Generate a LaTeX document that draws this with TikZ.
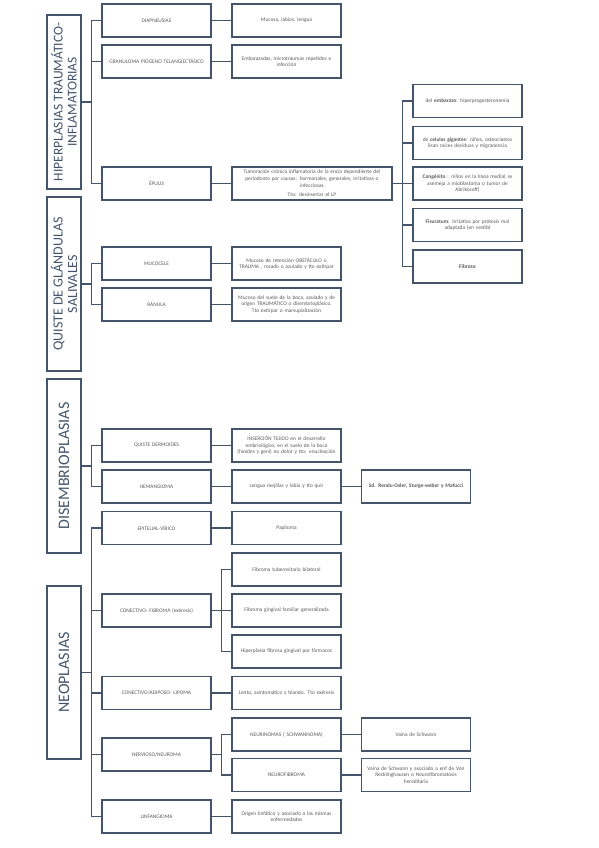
\documentclass[tikz,border=0pt]{standalone}
\usepackage{fontspec}
\setmainfont{Carlito}
\hyphenpenalty=10000
\exhyphenpenalty=10000
\definecolor{edge}{HTML}{44546A}
\definecolor{txt}{HTML}{595959}
\tikzset{
 box/.style={draw=edge, line width=1.3pt, fill=white, text=txt, inner xsep=1pt, inner ysep=1pt,
   minimum height=33pt, text width=107pt, align=center, font=\fontsize{5.4}{6.6}\selectfont},
 widebox/.style={box, text width=158pt},
 cat/.style={draw=edge, line width=1.3pt, rotate=90, minimum width=174pt, minimum height=34pt,
   inner sep=0pt, align=center, text=edge},
 conn/.style={draw=edge, line width=1.3pt},
}
\begin{document}
\begin{tikzpicture}[x=1pt,y=-1pt]
\useasboundingbox (0,0) rectangle (599,848);
% categories
\node[cat, font=\fontsize{13.5}{14}\selectfont] (hip) at (64,102) {HIPERPLASIAS TRAUMÁTICO-\\INFLAMATORIAS};
\node[cat, font=\fontsize{14}{14.5}\selectfont] (qui) at (64,284) {QUISTE DE GLÁNDULAS\\SALIVALES};
\node[cat, font=\fontsize{16}{17}\selectfont] (dis) at (64,466) {DISEMBRIOPLASIAS};
\node[cat, font=\fontsize{16}{17}\selectfont, minimum width=173pt] (neo) at (64,672.5) {NEOPLASIAS};
% level 1
\node[box] (diap) at (156.5,20.5) {DIAPNEUSIAS};
\node[box] (gran) at (156.5,61.5) {GRANULOMA PIÓGENO TELANGIECTÁSICO};
\node[box] (epu) at (156.5,183.5) {ÉPULIS};
\node[box] (muc) at (156.5,263.5) {MUCOCELE};
\node[box] (ran) at (156.5,304.5) {RÁNULA};
\node[box] (qder) at (156.5,445.5) {QUISTE DERMOIDES};
\node[box] (hem) at (156.5,486.5) {HEMANGIOMA};
\node[box] (epi) at (156.5,528) {EPITELIAL-VÍRICO};
\node[box] (cfib) at (156.5,610.5) {CONECTIVO- FIBROMA (exéresis)};
\node[box] (lip) at (156.5,693) {CONECTIVO/ADIPOSO- LIPOMA};
\node[box] (ner) at (156.5,754.5) {NERVIOSO/NEUROMA};
\node[box] (lin) at (156.5,816.5) {LINFANGIOMA};
% level 2
\node[box] (dmuc) at (286.5,20.5) {Mucosa, labios, lengua};
\node[box] (dgran) at (286.5,61.5) {Embarazadas, microtraumas repetidos e\\infección};
\node[widebox] (depu) at (312,183.5) {Tumoración crónica inflamatoria de la encía dependiente del\\periodonto por causas: hormonales, generales, irritativas o\\infecciosas\\[3pt]Tto: desinsertar el LP};
\node[box] (dmucc) at (286.5,263.5) {Mucoso de retención OBSTÁCULO o\\TRAUMA , rosado o azulado y tto extirpar};
\node[box] (dran) at (286.5,304.5) {Mucoso del suelo de la boca, azulado y de\\origen TRAUMÁTICO o disembrioplásico.\\Tto extirpar o marsupialización};
\node[box] (dqder) at (286.5,445.5) {INSERCIÓN TEJIDO en el desarrollo\\embriológico, en el suelo de la boca\\(hioides y geni) no dolor y tto: enucleación};
\node[box] (dhem) at (286.5,486.5) {Lengua mejillas y labio y tto quir};
\node[box] (depi) at (286.5,528) {Papiloma};
\node[box] (f1) at (286.5,569.5) {Fibroma tuberositario bilateral};
\node[box] (f2) at (286.5,610.5) {Fibroma gingival familiar generalizada};
\node[box] (f3) at (286.5,651.5) {Hiperplasia fibrosa gingival por fármacos};
\node[box] (dlip) at (286.5,693) {Lento, asintomático y blando. Tto exéresis};
\node[box] (n1) at (286.5,734.5) {NEURINOMAS ( SCHWANNOMA)};
\node[box] (n2) at (286.5,775) {NEUROFIBROMA};
\node[box] (dlin) at (286.5,816.5) {Origen linfático y asociado a las mismas\\enfermedades};
% level 3
\node[box] (sd) at (416,486.5) {\textbf{Sd. Rendu-Osler, Sturge-weber y Mafucci}};
\node[box] (v1) at (416,734.5) {Vaina de Schwann};
\node[box] (v2) at (416,775) {Vaina de Schwann y asociado a enf de Von\\Recklinghausen o Neurofibromatosis\\hereditaria};
% epulis subtypes
\node[box] (e1) at (467.5,101) {del \textbf{embarazo}: hiperprogesteronemia};
\node[box] (e2) at (467.5,143) {de \textbf{celulas gigantes}: niños, osteoclastos\\lisan raíces deciduas y migranencia};
\node[box] (e3) at (467.5,183.5) {\textbf{Congénito} : niños en la línea media( se\\asemeja a mioblastoma o tumor de\\Abrikosoff)};
\node[box] (e4) at (467.5,225) {\textbf{Fisuratum}: irritativa por prótesis mal\\adaptada (en vestib)};
\node[box] (e5) at (467.5,266.5) {\textbf{Fibroso}};
% connectors
\foreach \c in {diap,gran,epu} \draw[conn] (hip.south) -- ++(10,0) |- (\c.west);
\foreach \c in {muc,ran} \draw[conn] (qui.south) -- ++(10,0) |- (\c.west);
\foreach \c in {qder,hem} \draw[conn] (dis.south) -- ++(10,0) |- (\c.west);
\foreach \c in {epi,cfib,lip,ner,lin} \draw[conn] (neo.south) -- ++(10,0) |- (\c.west);
\foreach \c in {f1,f2,f3} \draw[conn] (cfib.east) -- ++(10,0) |- (\c.west);
\foreach \c in {n1,n2} \draw[conn] (ner.east) -- ++(10,0) |- (\c.west);
\foreach \c in {e1,e2,e3,e4,e5} \draw[conn] (depu.east) -- ++(10,0) |- (\c.west);
\draw[conn] (diap) -- (dmuc);
\draw[conn] (gran) -- (dgran);
\draw[conn] (epu) -- (depu);
\draw[conn] (muc) -- (dmucc);
\draw[conn] (ran) -- (dran);
\draw[conn] (qder) -- (dqder);
\draw[conn] (hem) -- (dhem);
\draw[conn] (dhem) -- (sd);
\draw[conn] (epi) -- (depi);
\draw[conn] (lip) -- (dlip);
\draw[conn] (lin) -- (dlin);
\draw[conn] (n1) -- (v1);
\draw[conn] (n2) -- (v2);
\end{tikzpicture}
\end{document}
